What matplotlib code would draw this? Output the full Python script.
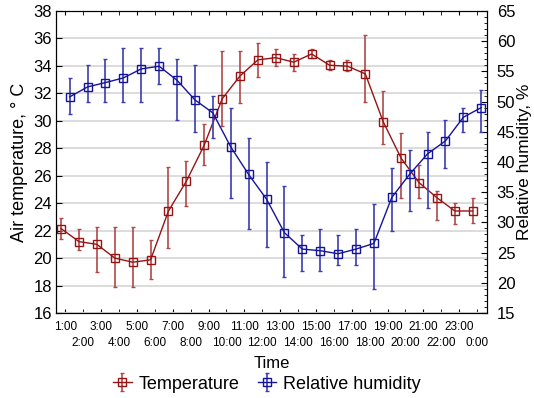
import numpy as np
import matplotlib
matplotlib.use('Agg')
import matplotlib.pyplot as plt
from matplotlib.ticker import AutoMinorLocator

plt.rcParams['font.family'] = ['Liberation Sans', 'DejaVu Sans']

hours = ['1:00', '2:00', '3:00', '4:00', '5:00', '6:00', '7:00', '8:00',
         '9:00', '10:00', '11:00', '12:00', '13:00', '14:00', '15:00', '16:00',
         '17:00', '18:00', '19:00', '20:00', '21:00', '22:00', '23:00', '0:00']

# air temperature, deg C (mean, upper and lower whisker)
temp = [22.15, 21.2, 21.0, 20.0, 19.7, 19.87, 23.43, 25.6, 28.23, 31.6, 33.27, 34.44,
        34.6, 34.27, 34.87, 34.05, 33.98, 33.42, 29.93, 27.28, 25.5, 24.4, 23.43, 23.43]
temp_hi = [22.9, 22.1, 22.3, 22.3, 22.3, 21.3, 26.6, 27.1, 29.8, 35.1, 35.1, 35.7,
           35.26, 34.9, 35.26, 34.4, 34.4, 36.25, 32.2, 29.1, 26.8, 24.9, 24.0, 24.4]
temp_lo = [21.4, 20.6, 19.0, 17.9, 17.9, 18.5, 20.7, 23.8, 26.8, 29.6, 31.3, 33.2,
           33.98, 33.66, 34.56, 33.7, 33.66, 31.4, 28.3, 24.4, 24.4, 22.8, 22.5, 22.56]

# relative humidity, %
rh = [50.78, 52.43, 53.15, 53.92, 55.41, 55.85, 53.53, 50.28, 48.13, 42.51, 37.93, 33.85,
      28.29, 25.58, 25.31, 24.81, 25.58, 26.52, 34.13, 37.99, 41.35, 43.5, 47.41, 49.01]
rh_hi = [53.97, 56.0, 57.0, 58.94, 58.94, 58.94, 57.0, 56.0, 51.0, 49.0, 44.0, 39.97,
         35.95, 27.95, 28.95, 27.95, 28.95, 33.08, 39.0, 41.96, 44.99, 47.03, 49.0, 51.99]
rh_lo = [47.9, 50.0, 50.0, 50.0, 50.0, 52.98, 46.97, 44.93, 43.94, 33.96, 28.95, 25.97,
         20.95, 22.0, 22.0, 22.99, 22.99, 18.97, 28.5, 31.92, 32.37, 38.98, 44.93, 44.93]

x = np.arange(len(hours))
temp = np.array(temp)
rh = np.array(rh)
t_err = [temp - np.array(temp_lo), np.array(temp_hi) - temp]
h_err = [rh - np.array(rh_lo), np.array(rh_hi) - rh]

red = '#961414'
blue = '#14149b'

fig = plt.figure(figsize=(5.34, 3.98), dpi=100)
ax = fig.add_axes([0.105, 0.2136, 0.807, 0.7588])
ax2 = ax.twinx()

ax.set_axisbelow(True)
ax.grid(axis='y', color='#dcdcdc', linewidth=1.4)

h1 = ax.errorbar(x - 0.24, temp, yerr=t_err, color=red, ecolor='#b04848', elinewidth=1.2,
                 capsize=1.5, capthick=1.0, marker='s', markersize=6, mfc='none',
                 mew=1.0, linewidth=1.0, label='Temperature')
h2 = ax2.errorbar(x + 0.24, rh, yerr=h_err, color=blue, ecolor='#3c3cb0', elinewidth=1.2,
                  capsize=1.5, capthick=1.0, marker='s', markersize=6, mfc='none',
                  mew=1.0, linewidth=1.0, label='Relative humidity')

ax.set_xlim(-0.52, 23.56)
ax.set_ylim(16, 38)
ax.set_yticks(np.arange(16, 39, 2))
ax2.set_ylim(15, 65)
ax2.set_yticks(np.arange(15, 66, 5))
ax2.yaxis.set_minor_locator(AutoMinorLocator(5))

# odd hours on the first row, even hours on the second row
ax.set_xticks(x[0::2], hours[0::2], fontsize=8.5)
ax.set_xticks(x[1::2], hours[1::2], minor=True, fontsize=8.5)
ax.tick_params(axis='x', which='both', direction='in', top=True, length=3)
ax.tick_params(axis='x', which='major', pad=6)
ax.tick_params(axis='x', which='minor', pad=17)
ax.tick_params(axis='y', direction='in', length=4, labelsize=12, pad=3)
ax2.tick_params(axis='y', which='major', direction='in', length=4, labelsize=12, pad=7)
ax2.tick_params(axis='y', which='minor', direction='in', length=2)

ax.set_xlabel('Time', fontsize=12, labelpad=5)
ax.set_ylabel('Air temperature, ° C', fontsize=13, labelpad=4)
ax2.set_ylabel('Relative humidity, %', fontsize=12.5, labelpad=1)

fig.legend([h1, h2], ['Temperature', 'Relative humidity'], loc='center',
           bbox_to_anchor=(0.5, 0.035), ncol=2, frameon=False, fontsize=13,
           handlelength=1.0, handletextpad=0.4, columnspacing=1.0)

fig.savefig('out.png', dpi=100)
